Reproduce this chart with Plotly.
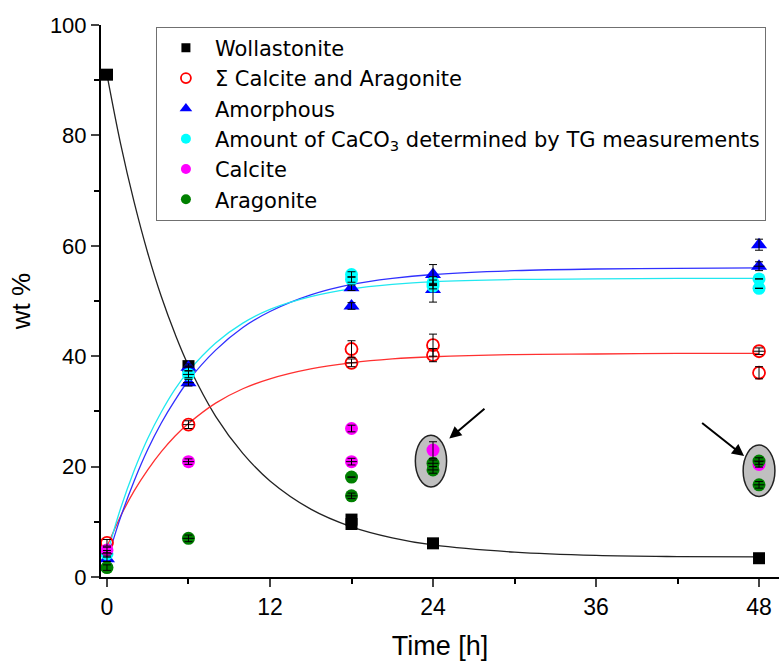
import plotly.graph_objects as go

FONT = "Liberation Sans, Arial, sans-serif"

# ---------------- data ----------------
time_ticks = [0, 12, 24, 36, 48]

woll_x = [0, 6, 18, 18, 24, 48]
woll_y = [91.0, 38.2, 10.4, 9.6, 6.1, 3.4]
woll_yerr = [0, 0, 0, 0, 0, 0]
woll_xerr = [0, 0, 0, 0, 0, 0]

sum_x = [0, 6, 18, 18, 24, 24, 48, 48]
sum_y = [6.2, 27.6, 41.3, 38.8, 42.0, 40.2, 40.9, 37.0]
sum_yerr = [0.6, 0.7, 1.5, 0.7, 2.0, 1.2, 0.6, 1.1]
sum_xerr = [0, 0.4, 0, 0.4, 0, 0, 0.4, 0]

amor_x = [0, 6, 6, 18, 18, 24, 24, 48, 48]
amor_y = [3.3, 38.0, 35.2, 52.4, 49.1, 54.8, 52.1, 60.2, 56.3]
amor_yerr = [0.5, 0.6, 0.6, 0.5, 0.6, 1.8, 2.3, 1.0, 0.8]
amor_xerr = [0, 0.4, 0.4, 0, 0, 0, 0, 0, 0.4]

tg_x = [0, 6, 18, 18, 24, 24, 48, 48]
tg_y = [4.2, 36.7, 54.8, 53.9, 53.3, 52.7, 54.0, 52.3]
tg_yerr = [0.6, 0.6, 0.5, 0.5, 0.5, 0.5, 0, 0]
tg_xerr = [0.4, 0.4, 0, 0, 0, 0, 0, 0]

calc_x = [0, 6, 18, 18, 24, 48]
calc_y = [4.9, 20.9, 26.9, 20.9, 23.0, 20.4]
calc_yerr = [0.5, 0.5, 0.6, 0.6, 1.5, 0.5]
calc_xerr = [0, 0.4, 0, 0.4, 0, 0]

arag_x = [0, 6, 18, 18, 24, 24, 48, 48]
arag_y = [1.7, 7.0, 18.1, 14.7, 20.6, 19.4, 21.0, 16.7]
arag_yerr = [0.5, 0.6, 0, 0.5, 0.6, 0.6, 0.6, 0.6]
arag_xerr = [0, 0.4, 0, 0.4, 0.4, 0.4, 0.4, 0.4]

# fitted curves, values
fit_t = [0, 1, 2, 3, 4, 5, 6, 8, 10, 12, 15, 18, 21, 24, 30, 36, 42, 48]
fit_woll = [91.0, 78.5, 67.9, 58.7, 50.8, 44.1, 38.3, 29.1, 22.4, 17.4, 12.3, 9.1, 7.1, 5.8, 4.5, 3.9, 3.7, 3.65]
fit_sum = [5.5, 11.0, 15.6, 19.4, 22.7, 25.5, 27.8, 31.5, 34.1, 35.9, 37.7, 38.8, 39.5, 39.9, 40.3, 40.4, 40.5, 40.5]
fit_amor = [3.0, 10.8, 17.4, 23.1, 27.9, 32.0, 35.6, 41.1, 45.2, 48.1, 51.1, 53.0, 54.1, 54.8, 55.5, 55.8, 55.9, 56.0]
fit_tg = [4.1, 12.4, 19.3, 25.1, 29.9, 34.0, 37.3, 42.4, 46.0, 48.5, 50.8, 52.2, 53.0, 53.5, 53.9, 54.0, 54.1, 54.1]

legend_names = [
    "Wollastonite",
    "\u03a3 Calcite and Aragonite",
    "Amorphous",
    "Amount of CaCO<sub>3</sub> determined by TG measurements",
    "Calcite",
    "Aragonite",
]

fig = go.Figure()

# fit lines
for ys, col in [(fit_woll, "#222222"), (fit_sum, "#ff3030"), (fit_amor, "#3030ff"), (fit_tg, "#20e8f0")]:
    fig.add_trace(go.Scatter(x=fit_t, y=ys, mode="lines", line=dict(color=col, width=1.3, shape="spline", smoothing=1.0),
                             showlegend=False, hoverinfo="skip"))

series = [
    (woll_x, woll_y, woll_yerr, woll_xerr, dict(symbol="square", size=12, color="black")),
    (sum_x, sum_y, sum_yerr, sum_xerr, dict(symbol="circle-open", size=12, color="red", line=dict(width=1.8, color="red"))),
    (amor_x, amor_y, amor_yerr, amor_xerr, dict(symbol="triangle-up", size=14, color="blue")),
    (tg_x, tg_y, tg_yerr, tg_xerr, dict(symbol="circle", size=13, color="cyan")),
    (calc_x, calc_y, calc_yerr, calc_xerr, dict(symbol="circle", size=13, color="magenta")),
    (arag_x, arag_y, arag_yerr, arag_xerr, dict(symbol="circle", size=13, color="green")),
]

for xs, ys, ye, xe, mk in series:
    fig.add_trace(go.Scatter(x=xs, y=ys, mode="markers", marker=mk, showlegend=False))

# error bars on top of markers
for xs, ys, ye, xe, mk in series:
    fig.add_trace(go.Scatter(
        x=xs, y=ys, mode="markers", marker=dict(size=1, opacity=0), showlegend=False, hoverinfo="skip",
        error_y=dict(type="data", array=ye, color="black", thickness=1, width=4),
        error_x=dict(type="data", array=xe, color="black", thickness=1, width=0),
    ))

# legend-only traces
leg_markers = [
    dict(symbol="square", size=9, color="black"),
    dict(symbol="circle-open", size=10, color="red", line=dict(width=1.8, color="red")),
    dict(symbol="triangle-up", size=11, color="blue"),
    dict(symbol="circle", size=10, color="cyan"),
    dict(symbol="circle", size=10, color="magenta"),
    dict(symbol="circle", size=10, color="green"),
]
for name, mk in zip(legend_names, leg_markers):
    fig.add_trace(go.Scatter(x=[None], y=[None], mode="markers", marker=mk, name=name, showlegend=True))

# grey ellipses around overlapping points
fig.add_shape(type="circle", xref="x", yref="y", x0=22.7, x1=25.0, y0=16.3, y1=25.7,
              fillcolor="#c0c0c0", line=dict(color="#222222", width=1.5), layer="below")
fig.add_shape(type="circle", xref="x", yref="y", x0=46.83, x1=49.17, y0=14.6, y1=23.9,
              fillcolor="#c0c0c0", line=dict(color="#222222", width=1.5), layer="below")

# arrows
for hx, hy, tx, ty in [(25.2, 25.1, 27.9, 30.7), (46.9, 21.9, 43.7, 28.1)]:
    fig.add_annotation(x=hx, y=hy, ax=tx, ay=ty, xref="x", yref="y", axref="x", ayref="y",
                       showarrow=True, arrowhead=2, arrowsize=1.2, arrowwidth=2, arrowcolor="black", text="")

fig.update_layout(
    width=779, height=664,
    margin=dict(l=101, r=0, t=25, b=87),
    paper_bgcolor="white", plot_bgcolor="white",
    font=dict(family=FONT, color="black", size=21),
    legend=dict(x=0.081, y=0.997, xanchor="left", yanchor="top", bordercolor="#707070", borderwidth=1,
                bgcolor="rgba(255,255,255,0)", font=dict(size=21, family="DejaVu Sans, sans-serif"),
                tracegroupgap=0, itemwidth=48),
    xaxis=dict(range=[-0.44, 49.47], tickvals=time_ticks, ticks="outside", ticklen=8, tickwidth=2,
               showline=True, linecolor="black", linewidth=2, showgrid=False, zeroline=False,
               tickfont=dict(size=23), title=dict(text="Time [h]", font=dict(size=27), standoff=18),
               minor=dict(dtick=6, tick0=0, ticks="outside", ticklen=5, tickwidth=2, tickcolor="black")),
    yaxis=dict(range=[0, 100], dtick=20, ticks="outside", ticklen=8, tickwidth=2,
               showline=True, linecolor="black", linewidth=2, showgrid=False, zeroline=False,
               tickfont=dict(size=22), title=dict(text="wt %", font=dict(size=26), standoff=12),
               minor=dict(dtick=10, ticks="outside", ticklen=5, tickwidth=2, tickcolor="black")),
)

fig.write_html("out.html")
